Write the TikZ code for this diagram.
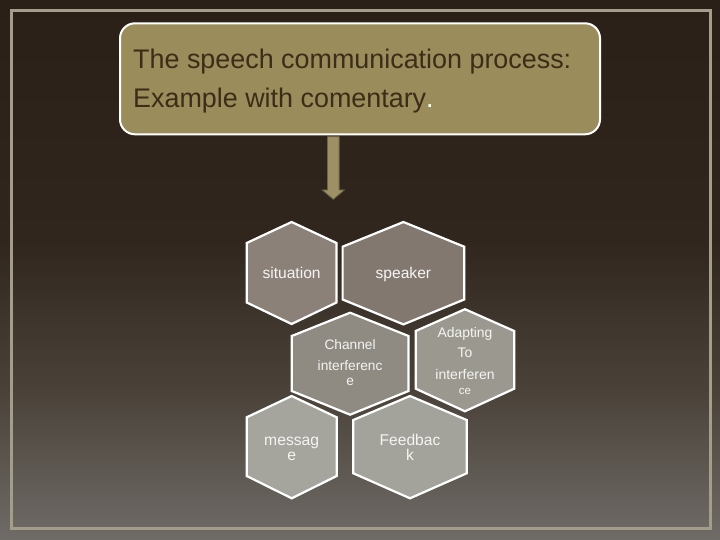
\documentclass[tikz,border=0pt]{standalone}
\usepackage{fontspec}
\setmainfont{Liberation Sans}
\definecolor{bgtop}{HTML}{2A2018}
\definecolor{bgdark}{HTML}{30261D}
\definecolor{bgmid}{HTML}{4A4239}
\definecolor{bgbot}{HTML}{6F6B67}
\definecolor{framec}{HTML}{A39D89}
\definecolor{titlefill}{HTML}{9B8C5C}
\definecolor{titletext}{HTML}{3B2D17}
\definecolor{arrfill}{HTML}{9C9064}
\definecolor{arrdraw}{HTML}{6C6448}
\definecolor{hsit}{HTML}{8B8178}
\definecolor{hspk}{HTML}{837870}
\definecolor{hchn}{HTML}{8F8B82}
\definecolor{hadp}{HTML}{9B998F}
\definecolor{hmsg}{HTML}{A5A59D}
\definecolor{hfdb}{HTML}{A3A39B}
\definecolor{htext}{HTML}{F4F4F2}
\pgfdeclareverticalshading{bgshade}{100bp}{color(0bp)=(bgbot); color(25bp)=(bgbot); color(38.9bp)=(bgmid); color(52.8bp)=(bgdark); color(75bp)=(bgtop); color(100bp)=(bgtop)}
\tikzset{
  hexstyle/.style={draw=white, line width=2.2pt, line join=miter},
  hlabel/.style={text=htext, inner sep=0pt, anchor=base},
  titlebox/.style={draw=white, line width=2pt, fill=titlefill, rounded corners=15pt, inner sep=0pt},
  titletxt/.style={text=titletext, inner sep=0pt, anchor=base west, font=\fontsize{26.9}{30}\selectfont},
}
\newcommand\hexshape[7]{%
  \draw[hexstyle, fill=#7] (#1,#4) -- ({(#1+#2)/2},#3) -- (#2,#4) -- (#2,#5) -- ({(#1+#2)/2},#6) -- (#1,#5) -- cycle;}
\begin{document}
\begin{tikzpicture}[x=1pt, y=-1pt]
\useasboundingbox (0,0) rectangle (720,540);
\fill[shading=bgshade] (0,0) rectangle (720,540);
\draw[framec, line width=3pt] (11.5,10.5) rectangle (710,528.5);
% title
\node[titlebox, minimum width=480pt, minimum height=111pt] (title) at (360,78.8) {};
\node[titletxt] (t1) at (133,68.3) {The speech communication process:};
\node[titletxt] (t2) at (133,107.7) {Example with comentary\textcolor{white}{.}};
% block arrow
\coordinate (atop) at (333.3,136.7);
\filldraw[fill=arrfill, draw=arrdraw, line width=0.8pt]
  ([xshift=-5.8pt]atop) -- ([xshift=5.8pt]atop) -- ([xshift=5.8pt,yshift=-53.3pt]atop)
  -- ([xshift=11pt,yshift=-53.3pt]atop) -- ([yshift=-62.6pt]atop)
  -- ([xshift=-11pt,yshift=-53.3pt]atop) -- ([xshift=-5.8pt,yshift=-53.3pt]atop) -- cycle;
% hexagons
\hexshape{246.7}{336.5}{222}{243}{302.5}{324}{hsit}
\hexshape{342.6}{464.2}{222}{246.7}{299.5}{324.4}{hspk}
\hexshape{291.7}{408.5}{312.7}{336}{391}{414.7}{hchn}
\hexshape{415.7}{514.2}{309.2}{331}{388.7}{411.3}{hadp}
\hexshape{246.7}{336.7}{396}{417.3}{476}{498.3}{hmsg}
\hexshape{353.3}{466.7}{396}{420}{473.3}{498.3}{hfdb}
% labels
\node[hlabel, font=\fontsize{15.6}{18}\selectfont] (situation) at (291.6,278.3) {situation};
\node[hlabel, font=\fontsize{15.6}{18}\selectfont] (speaker) at (403.4,278.3) {speaker};
\node[hlabel, font=\fontsize{13.7}{16}\selectfont] (chn1) at (350.1,349) {Channel};
\node[hlabel, font=\fontsize{13.7}{16}\selectfont] (chn2) at (350.1,370.7) {interferenc};
\node[hlabel, font=\fontsize{13.7}{16}\selectfont] (chn3) at (350.1,385) {e};
\node[hlabel, font=\fontsize{13.9}{16}\selectfont] (adp1) at (465,337.3) {Adapting};
\node[hlabel, font=\fontsize{13.9}{16}\selectfont] (adp2) at (465,357.7) {To};
\node[hlabel, font=\fontsize{14}{16}\selectfont] (adp3) at (465,379.3) {interferen};
\node[hlabel, font=\fontsize{11.5}{13}\selectfont] (adp4) at (465,394) {ce};
\node[hlabel, font=\fontsize{15.7}{18}\selectfont] (msg1) at (291.7,445) {messag};
\node[hlabel, font=\fontsize{15.7}{18}\selectfont] (msg2) at (291.7,460) {e};
\node[hlabel, font=\fontsize{15.6}{18}\selectfont] (fdb1) at (410,445) {Feedbac};
\node[hlabel, font=\fontsize{15.6}{18}\selectfont] (fdb2) at (410,460) {k};
\end{tikzpicture}
\end{document}
